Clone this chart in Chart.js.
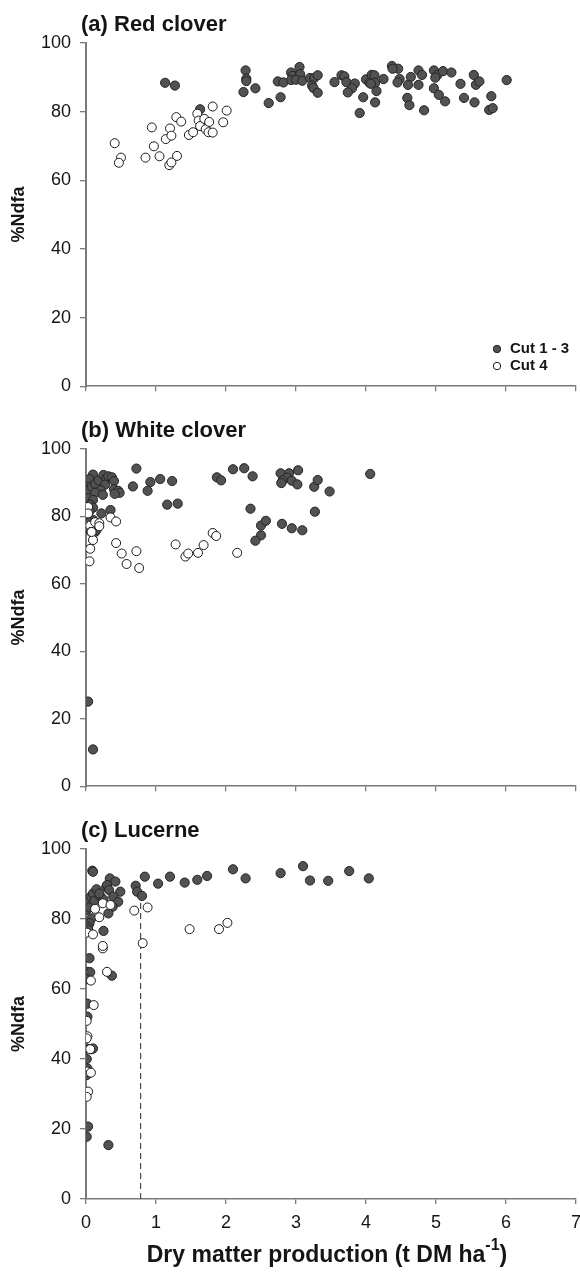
<!DOCTYPE html>
<html><head><meta charset="utf-8">
<script src="https://cdn.jsdelivr.net/npm/chart.js@4.4.0/dist/chart.umd.min.js"></script>
<style>
html,body{margin:0;padding:0;background:#fff;}
#wrap{position:relative;width:580px;height:1279px;overflow:hidden;background:#fff;}
canvas{position:absolute;left:0;}
</style></head><body>
<div id="wrap">
<canvas id="ca" width="600" height="406" style="top:0px;width:600px;height:406px"></canvas>
<canvas id="cb" width="600" height="400" style="top:406px;width:600px;height:400px"></canvas>
<canvas id="cc" width="600" height="473" style="top:806px;width:600px;height:473px"></canvas>
</div>
<script>
// ---------- data ----------
const xTicks = [0,1,2,3,4,5,6,7];
const yTicks = [0,20,40,60,80,100];
const panelTitles = ['(a) Red clover','(b) White clover','(c) Lucerne'];
const seriesNames = ['Cut 1 - 3','Cut 4'];
const yAxisTitle = '%Ndfa';
const xAxisTitleMain = 'Dry matter production (t DM ha';
const xAxisTitleSup = '-1';
const xAxisTitleEnd = ')';

// (a) Red clover
const redCut13X = [1.13,1.27,1.63,2.28,2.29,2.29,2.25,2.42,2.61,2.74,2.82,2.78,2.93,2.95,3.05,3.06,2.93,3.00,3.09,3.20,3.26,3.31,3.23,3.25,3.31,3.55,3.65,3.69,3.72,3.84,3.80,3.74,3.96,3.91,4.00,4.05,4.08,4.12,4.13,4.07,4.25,4.15,4.13,4.37,4.46,4.38,4.48,4.45,4.64,4.60,4.75,4.80,4.75,4.59,4.62,4.83,4.97,5.02,5.10,5.22,4.99,4.97,5.04,5.13,5.35,5.40,5.54,5.57,5.62,5.55,5.79,5.76,5.81,6.01];
const redCut13Y = [88.4,87.6,80.7,92.0,89.6,88.9,85.7,86.8,82.5,88.8,88.5,84.2,91.4,90.4,93.0,90.9,89.2,89.3,89.0,89.8,89.8,90.6,87.6,86.9,85.5,88.6,90.6,90.3,88.6,88.2,86.8,85.6,84.2,79.6,89.4,88.4,90.7,90.6,88.4,88.1,89.5,86.0,82.7,93.3,92.5,92.5,89.5,88.5,90.1,87.8,92.0,90.7,87.8,84.0,81.9,80.4,92.0,90.7,91.8,91.4,89.9,86.8,84.9,83.0,88.1,84.0,90.7,87.8,88.8,82.7,84.5,80.5,81.0,89.2];
const redCut4X = [0.41,0.50,0.47,0.85,0.94,0.97,1.05,1.14,1.20,1.22,1.19,1.22,1.30,1.29,1.36,1.47,1.53,1.59,1.61,1.63,1.69,1.71,1.76,1.75,1.81,1.81,1.96,2.01];
const redCut4Y = [70.8,66.6,65.1,66.6,75.4,69.9,67.0,72.0,75.1,73.0,64.4,65.2,67.1,78.4,77.1,73.2,74.0,79.4,77.4,75.8,77.9,74.9,77.0,74.0,73.9,81.5,76.9,80.3];

// (b) White clover
const whiteCut13X = [0.10,0.00,0.05,0.01,0.02,0.08,0.13,0.18,0.25,0.29,0.32,0.37,0.40,0.27,0.21,0.13,0.24,0.40,0.46,0.48,0.41,0.10,0.06,0.10,0.05,0.22,0.35,0.01,0.10,0.05,0.13,0.15,0.72,0.67,0.92,1.06,1.23,0.88,1.16,1.31,1.87,1.93,2.10,2.26,2.38,2.35,2.50,2.57,2.50,2.42,2.80,2.78,2.90,3.03,2.87,2.81,2.79,2.94,3.02,3.26,3.31,3.48,4.06,2.94,3.09,3.27,0.03,0.10];
const whiteCut13Y = [92.4,89.5,91.1,87.6,85.4,88.8,89.7,90.7,92.3,91.3,91.9,91.6,90.5,89.4,87.8,87.0,86.4,88.1,87.6,87.0,86.7,84.9,83.5,82.6,81.6,80.9,81.9,79.7,79.0,78.3,75.4,76.0,94.2,88.9,90.2,91.1,90.5,87.6,83.5,83.8,91.6,90.7,94.0,94.3,91.9,82.3,77.3,78.7,74.4,72.8,77.8,92.8,92.8,93.7,91.5,90.7,89.9,90.6,89.5,88.8,90.8,87.4,92.6,76.5,75.9,81.4,25.1,10.9];
const whiteCut4X = [0.03,0.06,0.07,0.10,0.06,0.05,0.03,0.13,0.19,0.19,0.08,0.35,0.43,0.43,0.51,0.58,0.72,0.76,1.28,1.42,1.46,1.60,1.68,1.81,1.86,2.16];
const whiteCut4Y = [82.8,77.3,75.4,73.0,70.4,66.7,80.9,78.3,78.0,77.1,75.4,79.7,78.5,72.1,69.0,65.9,69.7,64.7,71.7,68.1,69.0,69.2,71.5,75.1,74.2,69.2];

// (c) Lucerne
const lucCut13X = [0.09,0.10,0.01,0.02,0.05,0.07,0.10,0.15,0.12,0.20,0.25,0.19,0.29,0.34,0.42,0.30,0.33,0.49,0.39,0.46,0.38,0.32,0.08,0.05,0.03,0.03,0.25,0.05,0.03,0.06,0.01,0.37,0.02,0.02,0.01,0.08,0.10,0.01,0.02,0.01,0.03,0.01,0.32,0.71,0.73,0.80,0.84,1.03,1.20,1.41,1.59,1.73,2.10,2.28,2.78,3.10,3.20,3.46,3.76,4.04];
const lucCut13Y = [93.8,93.5,82.6,84.9,83.3,86.4,87.3,88.5,85.2,86.6,85.6,87.3,89.2,91.6,90.7,89.7,88.3,87.8,86.4,84.9,83.5,81.6,80.2,78.8,77.8,77.0,76.6,68.8,64.9,64.8,62.8,63.8,55.8,52.1,43.0,42.8,43.0,40.0,37.3,35.4,20.7,17.8,15.4,89.5,87.8,86.6,92.1,90.1,92.1,90.4,91.2,92.3,94.2,91.6,93.1,95.1,91.0,90.9,93.7,91.6];
const lucCut4X = [0.13,0.24,0.35,0.19,0.01,0.10,0.24,0.24,0.30,0.07,0.11,0.01,0.02,0.01,0.06,0.02,0.07,0.03,0.01,0.69,0.88,0.81,1.48,1.90,2.02];
const lucCut4Y = [82.9,84.5,84.0,80.5,76.1,75.6,71.6,72.3,64.9,62.4,55.4,50.9,46.5,45.9,42.8,36.4,36.1,30.7,29.2,82.4,83.3,73.1,77.1,77.1,78.9];

// dashed reference line in (c)
const refLineX = [0.78,0.78];
const refLineY = [0,86];

// ---------- chart building ----------
const FONT = '"Liberation Sans", Arial, Helvetica, sans-serif';
const AXIS_COL = '#7a7a7a';
const TXT = '#151515';
const toPts = (xs, ys) => xs.map((x,i)=>({x:x, y:ys[i]}));

function filledSet(xs, ys){
  return {label: seriesNames[0], data: toPts(xs,ys), backgroundColor:'#525252', borderColor:'#242424',
    borderWidth:1, pointRadius:4.6, pointHoverRadius:4.6, order:2};
}
function openSet(xs, ys){
  return {label: seriesNames[1], data: toPts(xs,ys), backgroundColor:'#ffffff', borderColor:'#1a1a1a',
    borderWidth:1, pointRadius:4.5, pointHoverRadius:4.5, order:1};
}

function makeTitlePlugin(idx){
  return {id:'ptitle'+idx, afterDraw(chart){
    const ctx = chart.ctx; ctx.save();
    ctx.font = 'bold 22px ' + FONT; ctx.fillStyle = TXT;
    ctx.textAlign = 'left'; ctx.textBaseline = 'middle';
    ctx.fillText(panelTitles[idx], 81, 25);
    ctx.restore();
  }};
}

const legendPlugin = {id:'cutLegend', afterDraw(chart){
  const ctx = chart.ctx; ctx.save();
  const items = [{y:349, fill:'#525252', stroke:'#242424'},{y:366, fill:'#ffffff', stroke:'#1a1a1a'}];
  items.forEach((it,i)=>{
    ctx.beginPath(); ctx.arc(497, it.y, 3.7, 0, Math.PI*2);
    ctx.fillStyle = it.fill; ctx.fill(); ctx.lineWidth = 1; ctx.strokeStyle = it.stroke; ctx.stroke();
    ctx.font = 'bold 15px ' + FONT; ctx.fillStyle = TXT; ctx.textAlign='left'; ctx.textBaseline='middle';
    ctx.fillText(seriesNames[i], 510, it.y);
  });
  ctx.restore();
}};

const xTitlePlugin = {id:'xTitle', afterDraw(chart){
  const ctx = chart.ctx; ctx.save();
  const big = 'bold 23px ' + FONT, small = 'bold 16px ' + FONT;
  ctx.font = big; const w1 = ctx.measureText(xAxisTitleMain).width; const w3 = ctx.measureText(xAxisTitleEnd).width;
  ctx.font = small; const w2 = ctx.measureText(xAxisTitleSup).width;
  const total = w1 + w2 + w3; let x = 327 - total/2; const y = 450;
  ctx.fillStyle = TXT; ctx.textAlign='left'; ctx.textBaseline='middle';
  ctx.font = big; ctx.fillText(xAxisTitleMain, x, y); x += w1;
  ctx.font = small; ctx.fillText(xAxisTitleSup, x, y - 10); x += w2;
  ctx.font = big; ctx.fillText(xAxisTitleEnd, x, y);
  ctx.restore();
}};

function makeChart(canvasId, idx, datasets, xAxisHeight, showXLabels, extraPlugins){
  return new Chart(document.getElementById(canvasId), {
    type:'scatter',
    data:{datasets:datasets},
    options:{
      responsive:false, animation:false, events:[],
      layout:{padding:{top:43, left:0, right:24, bottom:0}},
      plugins:{legend:{display:false}, tooltip:{enabled:false}, title:{display:false}},
      scales:{
        x:{type:'linear', min:0, max:7,
          afterBuildTicks: a => { a.ticks = xTicks.map(v=>({value:v})); },
          ticks:{display:showXLabels, font:{family:FONT, size:18}, color:TXT, padding:8, maxRotation:0, autoSkip:false},
          grid:{drawOnChartArea:false, drawTicks:true, tickLength:5, color:AXIS_COL, lineWidth:1.3},
          border:{display:true, color:AXIS_COL, width:1.6},
          afterFit: s => { s.height = xAxisHeight; }
        },
        y:{min:0, max:100,
          afterBuildTicks: a => { a.ticks = yTicks.map(v=>({value:v})); },
          ticks:{font:{family:FONT, size:18}, color:TXT, padding:9},
          grid:{drawOnChartArea:false, drawTicks:true, tickLength:6, color:AXIS_COL, lineWidth:1.3},
          border:{display:true, color:AXIS_COL, width:2},
          title:{display:true, text:yAxisTitle, color:TXT, font:{family:FONT, size:18, weight:'bold'}, padding:{top:8, bottom:0}},
          afterFit: s => { s.width = 86; }
        }
      }
    },
    plugins:[makeTitlePlugin(idx)].concat(extraPlugins||[])
  });
}

makeChart('ca', 0, [openSet(redCut4X, redCut4Y), filledSet(redCut13X, redCut13Y)], 11, false, [legendPlugin]);
makeChart('cb', 1, [openSet(whiteCut4X, whiteCut4Y), filledSet(whiteCut13X, whiteCut13Y)], 7, false, []);
makeChart('cc', 2, [
  openSet(lucCut4X, lucCut4Y),
  filledSet(lucCut13X, lucCut13Y),
  {label:'ref', data: toPts(refLineX, refLineY), showLine:true, pointRadius:0, borderColor:'#4a4a4a',
   borderWidth:1.2, borderDash:[6,4], fill:false, order:3}
], 80, true, [xTitlePlugin]);
</script>
</body></html>
